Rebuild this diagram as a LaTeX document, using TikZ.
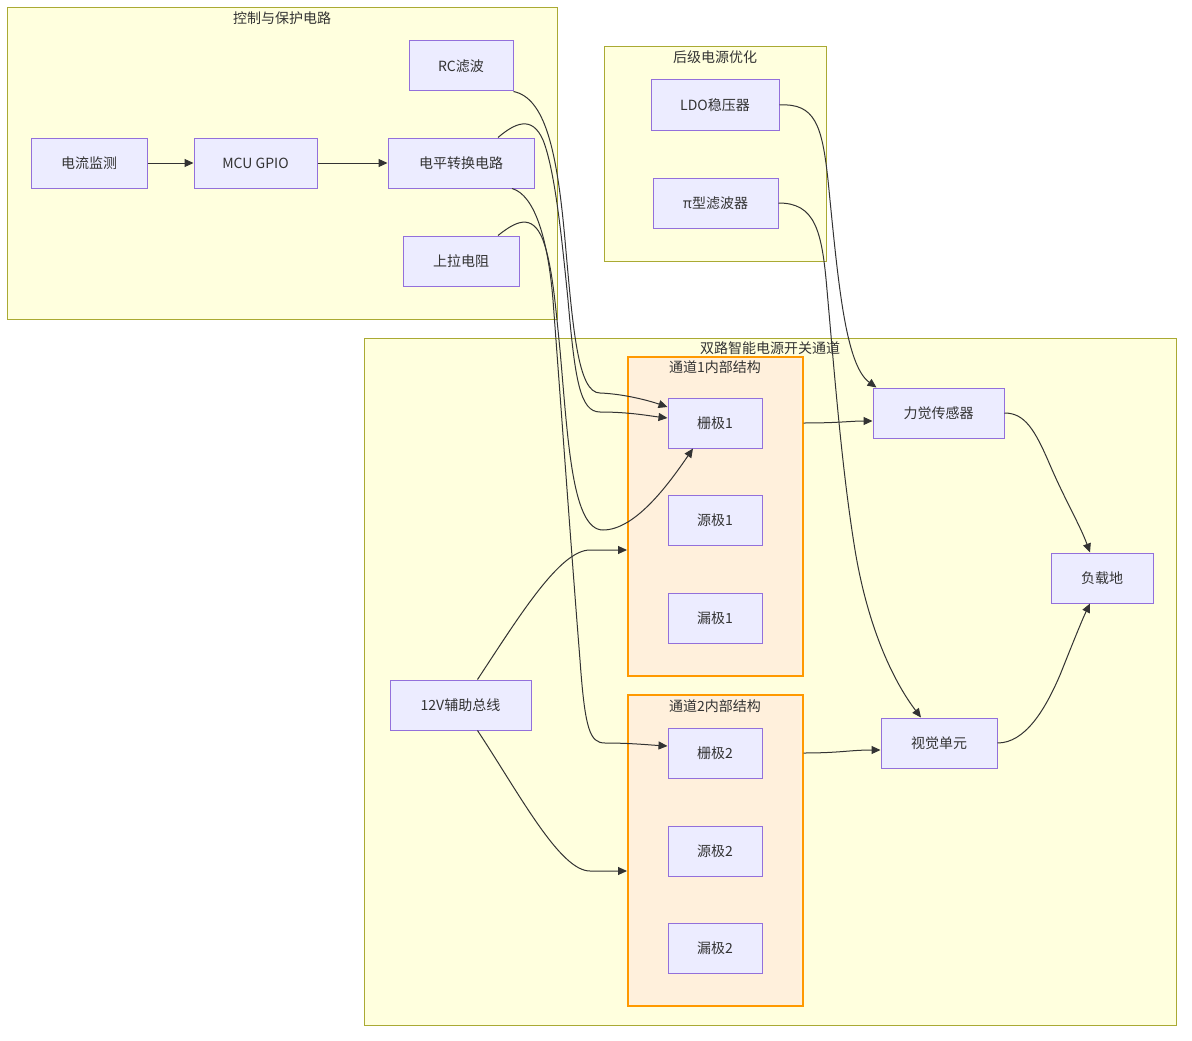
\documentclass[tikz,border=0pt]{standalone}
\usepackage{fontspec}
\setmainfont{Noto Sans CJK SC}
\usetikzlibrary{arrows.meta}
\definecolor{nodefill}{HTML}{ECECFF}
\definecolor{nodeline}{HTML}{9370DB}
\definecolor{clfill}{HTML}{FFFFDE}
\definecolor{clline}{HTML}{AAAA33}
\definecolor{chfill}{HTML}{FFF0DC}
\definecolor{chline}{HTML}{FF9900}
\definecolor{txt}{HTML}{333333}
\begin{document}
\begin{tikzpicture}[x=1pt,y=-1pt,
  box/.style={draw=nodeline, fill=nodefill, line width=1pt, minimum height=50pt, inner sep=0pt, text=txt, font=\fontsize{14}{17}\selectfont},
  cluster/.style={draw=clline, fill=clfill, line width=1pt, inner sep=0pt},
  chan/.style={draw=chline, fill=chfill, line width=2pt, inner sep=0pt},
  ttl/.style={text=txt, font=\fontsize{14}{17}\selectfont, inner sep=0pt},
  edge/.style={draw=txt, line width=1pt, -{Triangle[length=9pt,width=8pt]}},
]
\useasboundingbox (0,0) rectangle (1192,1041);
\fill[white] (0,0) rectangle (1192,1041);

% clusters
\node[cluster, minimum width=550pt, minimum height=311pt] (cA) at (282,163.5) {};
\node[cluster, minimum width=222pt, minimum height=214pt] (cB) at (715,154) {};
\node[cluster, minimum width=812pt, minimum height=687pt] (cC) at (770,681.5) {};
\node[chan, minimum width=175pt, minimum height=319pt] (ch1) at (715.5,516.5) {};
\node[chan, minimum width=175pt, minimum height=311pt] (ch2) at (715.5,850.5) {};
\node[ttl] (tA) at (282,18) {控制与保护电路};
\node[ttl] (tB) at (715,57) {后级电源优化};
\node[ttl] (tC) at (770,348) {双路智能电源开关通道};
\node[ttl] (t1) at (715,367) {通道1内部结构};
\node[ttl] (t2) at (715,706) {通道2内部结构};

% nodes
\node[box, minimum width=116pt] (cm) at (89,163) {电流监测};
\node[box, minimum width=123pt] (mcu) at (255.5,163) {MCU GPIO};
\node[box, minimum width=146pt] (lv) at (461,163) {电平转换电路};
\node[box, minimum width=104pt] (rc) at (461,66) {RC滤波};
\node[box, minimum width=116pt] (pu) at (461,261) {上拉电阻};
\node[box, minimum width=128pt] (ldo) at (715,105) {LDO稳压器};
\node[box, minimum width=125pt] (pi) at (715.5,203) {π型滤波器};
\node[box, minimum width=94pt] (g1) at (715,423) {栅极1};
\node[box, minimum width=94pt] (s1) at (715,520) {源极1};
\node[box, minimum width=94pt] (d1) at (715,618) {漏极1};
\node[box, minimum width=94pt] (g2) at (715,753) {栅极2};
\node[box, minimum width=94pt] (s2) at (715,851) {源极2};
\node[box, minimum width=94pt] (d2) at (715,948) {漏极2};
\node[box, minimum width=141pt] (bus) at (460.5,705) {12V辅助总线};
\node[box, minimum width=131pt] (fs) at (938.5,413) {力觉传感器};
\node[box, minimum width=116pt] (vu) at (939,743) {视觉单元};
\node[box, minimum width=102pt] (lg) at (1102,578) {负载地};

% edges
\draw[edge] (cm.east) -- (mcu.west);
\draw[edge] (mcu.east) -- (lv.west);
\draw[edge] (rc.south east) .. controls (545,98) and (557,150) .. (565,240)
  .. controls (573,330) and (578,393) .. (600,393)
  .. controls (625,394) and (650,401) .. ([yshift=16pt]g1.west);
\draw[edge] ([xshift=37pt]lv.north) .. controls (515,123) and (532,115) .. (543,140)
  .. controls (555,170) and (562,240) .. (568,300)
  .. controls (575,380) and (580,412) .. (600,412)
  .. controls (630,412) and (650,416) .. ([yshift=5pt]g1.west);
\draw[edge] ([xshift=51pt]lv.south) .. controls (535,195) and (548,240) .. (553,300)
  .. controls (562,420) and (572,560) .. (580,660)
  .. controls (585,730) and (590,743) .. (605,743)
  .. controls (630,743) and (650,745) .. ([yshift=7pt]g2.west);
\draw[edge] ([xshift=37pt]pu.north) .. controls (515,222) and (532,212) .. (543,240)
  .. controls (552,265) and (555,300) .. (560,350)
  .. controls (568,440) and (572,530) .. (603,530)
  .. controls (635,530) and (668,485) .. ([xshift=-22pt]g1.south);
\draw[edge] (ldo.east) .. controls (815,103) and (822,125) .. (828,180)
  .. controls (838,280) and (845,365) .. ([xshift=-62pt]fs.north);
\draw[edge] (pi.east) .. controls (815,203) and (822,230) .. (827,290)
  .. controls (835,380) and (842,470) .. (855,550)
  .. controls (870,640) and (900,690) .. ([xshift=-18pt]vu.north);
\draw[edge] ([xshift=41pt]g1.east) .. controls (840,423) and (850,421) .. ([yshift=-8pt]fs.west);
\draw[edge] ([xshift=41pt]g2.east) .. controls (840,753) and (850,750) .. ([yshift=-7pt]vu.west);
\draw[edge] (fs.east) .. controls (1025,413) and (1035,430) .. (1050,465)
  .. controls (1065,500) and (1080,525) .. ([xshift=-12pt]lg.north);
\draw[edge] (vu.east) .. controls (1025,743) and (1045,710) .. (1060,675)
  .. controls (1072,645) and (1082,620) .. ([xshift=-12pt]lg.south);
\draw[edge] ([xshift=17pt]bus.north) .. controls (520,615) and (560,550) .. (590,550)
  -- ([yshift=-33.5pt]ch1.west);
\draw[edge] ([xshift=17pt]bus.south) .. controls (520,795) and (560,871) .. (590,871)
  -- ([yshift=-20.5pt]ch2.west);
\end{tikzpicture}
\end{document}
